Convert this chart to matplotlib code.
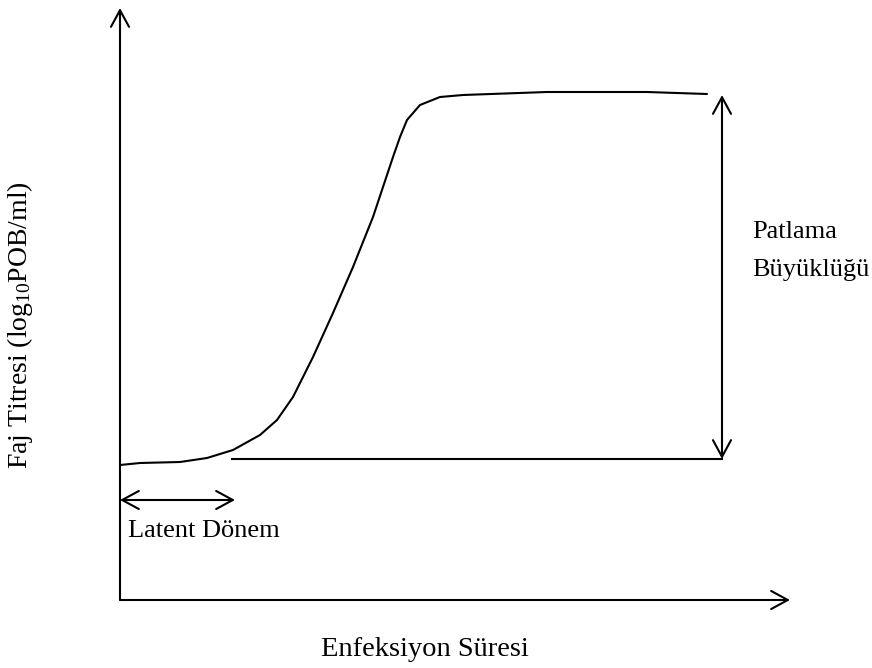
import matplotlib
matplotlib.use("Agg")
import matplotlib.pyplot as plt

plt.rcParams['font.family'] = ['Liberation Serif', 'DejaVu Serif']
plt.rcParams['mathtext.fontset'] = 'custom'
plt.rcParams['mathtext.rm'] = 'Liberation Serif'

# one-step growth curve (schematic units: time, log titre)
time = [0.0, 0.2, 0.6, 0.87, 1.13, 1.40, 1.57, 1.73, 1.93, 2.13, 2.33, 2.53, 2.73,
        2.80, 2.87, 3.0, 3.2, 3.43, 4.27, 5.27, 5.87]
titre = [1.35, 1.37, 1.38, 1.42, 1.50, 1.65, 1.80, 2.03, 2.43, 2.87, 3.33, 3.83, 4.43,
         4.63, 4.80, 4.95, 5.03, 5.05, 5.08, 5.08, 5.06]

baseline = 1.41
burst_top = 5.05
burst_x = 6.02
latent_end = 1.15
x_end = 6.7
y_end = 5.92

fig = plt.figure(figsize=(8.72, 6.68), dpi=100)
ax = fig.add_axes([0, 0, 1, 1])
ax.set_xlim(-1.2, 7.52)
ax.set_ylim(-0.68, 6.0)
ax.set_axis_off()

lw = 1.5
arrow = dict(arrowstyle='->,head_length=1.2,head_width=0.65', lw=lw, color='black',
             shrinkA=0, shrinkB=0)
arrow2 = dict(arrowstyle='<->,head_length=1.2,head_width=0.65', lw=lw, color='black',
              shrinkA=0, shrinkB=0)

# axes
ax.annotate('', xy=(x_end, 0), xytext=(0, 0), arrowprops=arrow)
ax.annotate('', xy=(0, y_end), xytext=(0, 0), arrowprops=arrow)

# curve and baseline
ax.plot(time, titre, color='black', lw=lw, solid_capstyle='round', solid_joinstyle='round')
ax.plot([latent_end - 0.03, burst_x], [baseline, baseline], color='black', lw=lw)

# burst size arrow
ax.annotate('', xy=(burst_x, burst_top), xytext=(burst_x, baseline), arrowprops=arrow2)
# latent period arrow
ax.annotate('', xy=(latent_end, 1.0), xytext=(0, 1.0), arrowprops=arrow2)

fs = 19
ax.text(0.08, 0.69, 'Latent Dönem', fontsize=fs, va='center', ha='left')
ax.text(6.32, 3.68, 'Patlama', fontsize=fs, va='center', ha='left')
ax.text(6.32, 3.30, 'Büyüklüğü', fontsize=fs, va='center', ha='left')
ax.text(3.05, -0.5, 'Enfeksiyon Süresi', fontsize=20.5, va='center', ha='center')
ax.text(-1.0, 2.75, r'Faj Titresi (log$\mathregular{_{10}}$POB/ml)', fontsize=20,
        va='center', ha='center', rotation=90)

fig.savefig('out.png', dpi=100)
